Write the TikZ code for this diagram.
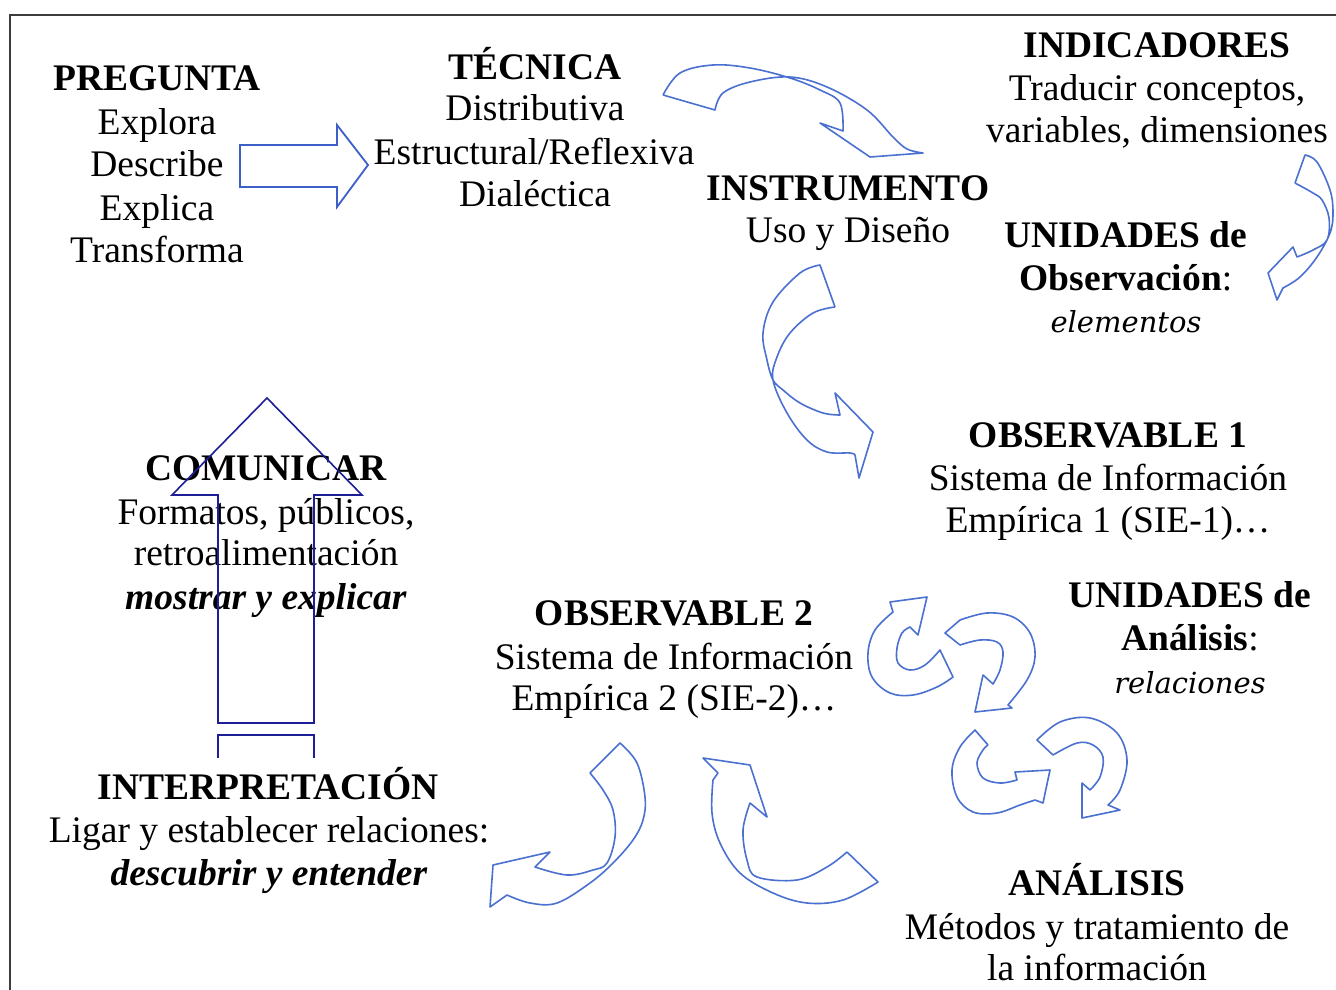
\documentclass[tikz,border=0pt]{standalone}
\usepackage{fontspec}
\setmainfont{Liberation Serif}
\newfontfamily\itfont{DejaVu Serif}
\definecolor{arrowblue}{RGB}{74,112,208}
\definecolor{blockblue}{RGB}{60,95,200}
\definecolor{navy}{RGB}{30,30,150}
\definecolor{framegray}{RGB}{60,60,60}
\begin{document}
\begin{tikzpicture}[x=1pt,y=-1pt,
  lbl/.style={anchor=base, inner sep=0pt, font=\fontsize{37.5}{43}\selectfont},
  ilbl/.style={anchor=base, inner sep=0pt, font=\itfont\itshape\fontsize{29}{43}\selectfont},
  curv/.style={draw=arrowblue, line width=1.6pt, line join=round},
  blk/.style={draw=blockblue, line width=1.8pt, line join=miter},
  uparr/.style={draw=navy, line width=1.6pt, line join=miter}]
\useasboundingbox (0,0) rectangle (1336,990);
\fill[white] (0,0) rectangle (1336,990);
% frame
\draw[framegray, line width=2.5pt] (10,1000) -- (10,15) -- (1350,15);

% ---- texts ----
\node[lbl] (preg) at (157,90) {\textbf{PREGUNTA}};
\node[lbl] (preg1) at (157,134) {Explora};
\node[lbl] (preg2) at (157,176) {Describe};
\node[lbl] (preg3) at (157,220) {Explica};
\node[lbl] (preg4) at (157,262) {Transforma};

\node[lbl] (tec) at (535,79) {\textbf{TÉCNICA}};
\node[lbl] (tec1) at (535,121) {Distributiva};
\node[lbl] (tec2) at (534,164) {Estructural/Reflexiva};
\node[lbl] (tec3) at (535,206) {Dialéctica};

\node[lbl] (ind) at (1157,58) {\textbf{INDICADORES}};
\node[lbl] (ind1) at (1157,100) {Traducir conceptos,};
\node[lbl] (ind2) at (1157,142) {variables, dimensiones};

\node[lbl] (ins) at (848,200) {\textbf{INSTRUMENTO}};
\node[lbl] (ins1) at (848,242) {Uso y Diseño};

\node[lbl] (uo) at (1126,247) {\textbf{UNIDADES de}};
\node[lbl] (uo1) at (1126,290) {\textbf{Observación}:};
\node[ilbl] (uo2) at (1126,332) {elementos};

\node[lbl] (ob1) at (1108,447) {\textbf{OBSERVABLE 1}};
\node[lbl] (ob11) at (1108,490) {Sistema de Información};
\node[lbl] (ob12) at (1108,532) {Empírica 1 (SIE-1)…};

\node[lbl] (ua) at (1190,607) {\textbf{UNIDADES de}};
\node[lbl] (ua1) at (1190,650) {\textbf{Análisis}:};
\node[ilbl] (ua2) at (1190,693) {relaciones};

\node[lbl] (ob2) at (674,625) {\textbf{OBSERVABLE 2}};
\node[lbl] (ob21) at (674,669) {Sistema de Información};
\node[lbl] (ob22) at (674,710) {Empírica 2 (SIE-2)…};

\node[lbl] (com) at (266,480) {\textbf{COMUNICAR}};
\node[lbl] (com1) at (266,524) {Formatos, públicos,};
\node[lbl] (com2) at (266,565) {retroalimentación};
\node[lbl] (com3) at (266,609) {\textbf{\textit{mostrar y explicar}}};

\node[lbl] (int) at (268,799) {\textbf{INTERPRETACIÓN}};
\node[lbl] (int1) at (269,842) {Ligar y establecer relaciones:};
\node[lbl] (int2) at (269,885) {\textbf{\textit{descubrir y entender}}};

\node[lbl] (ana) at (1097,895) {\textbf{ANÁLISIS}};
\node[lbl] (ana1) at (1097,939) {Métodos y tratamiento de};
\node[lbl] (ana2) at (1097,980) {la información};

% ---- block arrow right ----
\draw[blk] (240,145) -- (337,145) -- (337,125) -- (368,165) -- (337,207) -- (337,187) -- (240,187) -- cycle;

% ---- up arrow ----
\draw[uparr] (267,398) -- (362,495) -- (314,495) -- (314,723) -- (218,723) -- (218,495) -- (172,495) -- cycle;
\draw[uparr] (218,758) -- (218,735) -- (314,735) -- (314,758);

% ---- curved arrow A (TECNICA -> INSTRUMENTO) ----
\draw[curv] (663,95) -- (715,110)
  -- plot[smooth, tension=0.6] coordinates {(715,110) (723,93) (750,82) (790,77) (827,87) (867,110) (893,137) (907,149) (923,153)}
  -- (870,157) -- (820,123) -- (843,131)
  -- plot[smooth, tension=0.6] coordinates {(843,131) (840,103) (820,90) (790,78) (750,68) (713,65) (680,73) (663,95)};

% ---- curved arrow B (INSTRUMENTO -> OBSERVABLE 1) ----
\draw[curv] (835,307) -- (820,265)
  -- plot[smooth, tension=0.6] coordinates {(820,265) (800,273) (773,302) (763,333) (767,360) (773,380) (783,390) (800,403) (823,413) (840,415)}
  -- (835,393) -- (873,432) -- (859,478) -- (855,455)
  -- plot[smooth, tension=0.6] coordinates {(855,455) (850,453) (827,452) (807,440) (787,413) (773,380) (777,357) (790,333) (813,313) (835,307)};

% ---- curved arrow C (right of INDICADORES) ----
\draw[curv] (1295,183) -- (1305,155)
  -- plot[smooth, tension=0.6] coordinates {(1305,155) (1317,162) (1330,190) (1333,213) (1330,233) (1317,257) (1300,277) (1283,288)}
  -- (1277,300) -- (1268,273) -- (1293,247) -- (1297,257)
  -- plot[smooth, tension=0.6] coordinates {(1297,257) (1313,250) (1327,240) (1329,218) (1322,200) (1313,193) (1295,183)};

% ---- circular arrows D1a ----
\draw[curv] (890,602) -- (927,597) -- (918,635) -- (910,627)
  -- plot[smooth, tension=0.6] coordinates {(910,627) (902,633) (897,648) (898,663) (910,670) (925,665) (940,650)}
  -- (953,677)
  -- plot[smooth, tension=0.6] coordinates {(953,677) (937,687) (913,695) (890,693) (872,677) (868,653) (875,630) (893,612)}
  -- cycle;
% D1b
\draw[curv] (960,645) -- (945,633) -- (960,620)
  -- plot[smooth, tension=0.6] coordinates {(960,620) (987,613) (1013,617) (1030,633) (1035,657) (1027,680) (1008,705)}
  -- (1012,708) -- (975,712) -- (983,675) -- (993,684)
  -- plot[smooth, tension=0.6] coordinates {(993,684) (1000,670) (1003,652) (997,642) (980,640) (960,645)};
% D2a
\draw[curv] (988,745) -- (975,730)
  -- plot[smooth, tension=0.6] coordinates {(975,730) (960,747) (952,770) (957,797) (973,812) (997,813) (1020,805) (1035,800)}
  -- (1043,803) -- (1050,770) -- (1015,772) -- (1017,780)
  -- plot[smooth, tension=0.6] coordinates {(1017,780) (1000,783) (983,778) (977,763) (983,750) (988,745)};
% D2b
\draw[curv] (1053,755) -- (1037,740)
  -- plot[smooth, tension=0.6] coordinates {(1037,740) (1060,722) (1090,718) (1117,733) (1127,760) (1120,790) (1108,805)}
  -- (1120,810) -- (1082,818) -- (1082,783) -- (1090,790)
  -- plot[smooth, tension=0.6] coordinates {(1090,790) (1100,777) (1103,757) (1093,745) (1077,743) (1053,755)};

% ---- curved arrow E (OBSERVABLE 2 -> INTERPRETACION) ----
\draw[curv] (590,773) -- (620,743)
  -- plot[smooth, tension=0.6] coordinates {(620,743) (637,763) (645,797) (643,820) (633,840) (613,863) (590,883) (557,903) (530,903) (507,895)}
  -- (490,907) -- (493,865) -- (550,852) -- (535,867)
  -- plot[smooth, tension=0.6] coordinates {(535,867) (567,875) (593,870) (607,863) (615,837) (613,810) (603,790) (590,773)};

% ---- curved arrow F (ANALISIS -> OBSERVABLE 2) ----
\draw[curv] (847,852) -- (878,882)
  -- plot[smooth, tension=0.6] coordinates {(878,882) (843,900) (807,903) (773,893) (740,873) (720,843) (712,813) (713,780)}
  -- (718,773) -- (703,758) -- (750,765) -- (767,817) -- (750,803)
  -- plot[smooth, tension=0.6] coordinates {(750,803) (743,830) (747,860) (757,877) (797,880) (827,867) (847,852)};
\end{tikzpicture}
\end{document}
